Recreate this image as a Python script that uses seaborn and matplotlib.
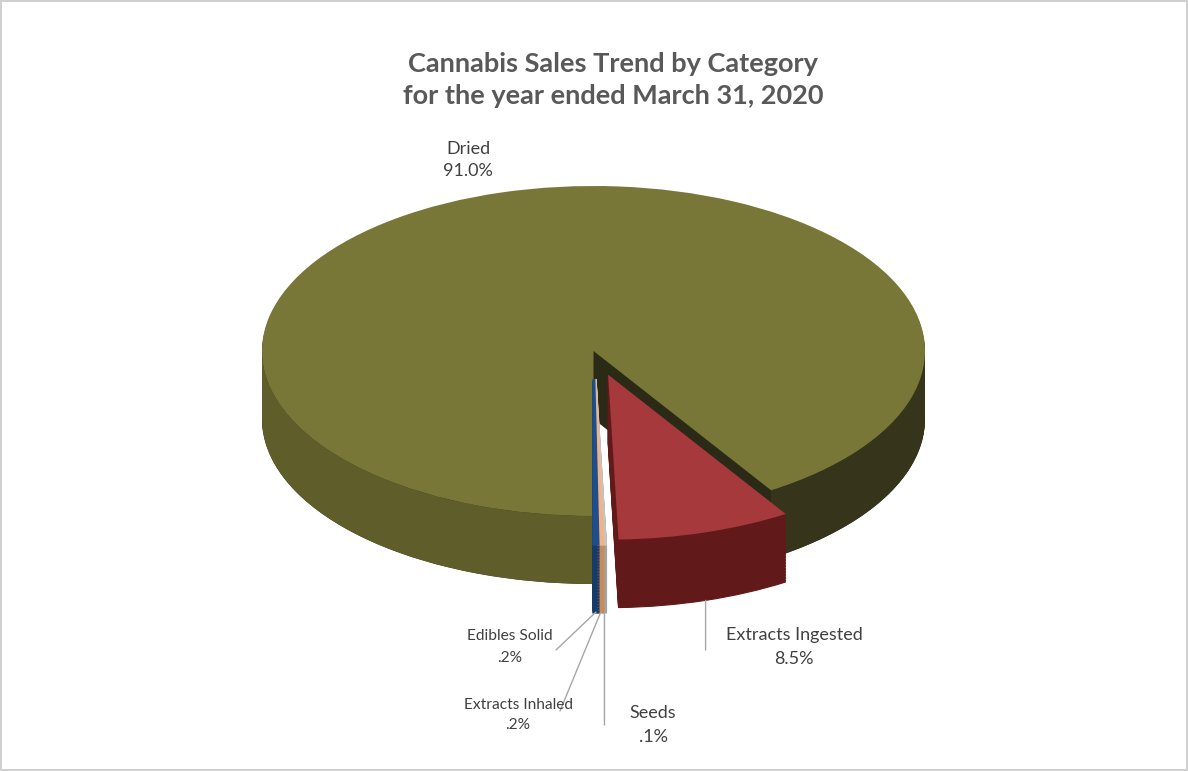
import numpy as np
import matplotlib
matplotlib.use("Agg")
import matplotlib.pyplot as plt
import seaborn as sns
from matplotlib.path import Path
from matplotlib.patches import PathPatch

# ---------------- data ----------------
categories = ["Dried", "Extracts Ingested", "Seeds", "Extracts Inhaled", "Edibles Solid"]
shares = [91.0, 8.5, 0.1, 0.2, 0.2]
share_labels = ["91.0%", "8.5%", ".1%", ".2%", ".2%"]

# ---------------- style ----------------
top_colors = ["#787737", "#a5393b", "#c4c4c4", "#f4b183", "#1f4e8c"]
side_colors = ["#2a2a16", "#621919", "#a3a3a3", "#c98a55", "#173a68"]
wall_left, wall_right = "#5f5d2a", "#36351b"
explode = [0.0, 0.15, 0.17, 0.17, 0.17]

sns.set_theme(style="white")
plt.rcParams['font.family'] = ['Lato', 'DejaVu Sans']

W, H = 1188, 771
fig = plt.figure(figsize=(W / 100, H / 100), dpi=100)
fig.patch.set_facecolor("white")
fig.patch.set_edgecolor("#d0d0d0")
fig.patch.set_linewidth(1.5)
ax = fig.add_axes([0, 0, 1, 1])

# pixel geometry of the pie ellipse
cx, cy, rx, ry = 593.5, 351.0, 331.5, 165.0
def px(x, y):
    return ((x - cx) / rx, (cy - y) / ry)

thick = 68.0 / ry
n_layers = 45
pie_kw = dict(explode=explode, startangle=-90, counterclock=False,
              wedgeprops=dict(linewidth=0))

def colors_for(idx_list, palette):
    return [palette[i] if i in idx_list else "none" for i in range(len(shares))]

# --- Dried: side layers (dark radial faces) ---
for k in range(n_layers, 0, -1):
    ax.pie(shares, colors=colors_for([0], side_colors),
           center=(0, -thick * k / n_layers), **pie_kw)

# --- Dried: visible outer wall (front crescent), lighter on the left ---
t1 = np.linspace(2 * np.pi, np.pi, 200)
t2 = np.linspace(np.pi, 2 * np.pi, 200)
crescent = np.vstack([np.column_stack([np.cos(t1), np.sin(t1)]),
                      np.column_stack([np.cos(t2), np.sin(t2) - thick]),
                      [[1.0, 0.0]]])
wall_clip = PathPatch(Path(crescent), transform=ax.transData, facecolor="none", edgecolor="none")
probe, _ = ax.pie(shares, colors=["none"] * len(shares), center=(0, 0), **pie_kw)
dried_start = np.deg2rad(probe[0].theta2)   # edge at the bottom (6 o'clock)
dried_end = np.deg2rad(probe[0].theta1)     # edge at lower right
left_span = ax.axvspan(-1.05, np.cos(dried_start), color=wall_left, lw=0, zorder=1)
left_span.set_clip_path(wall_clip)
right_span = ax.axvspan(np.cos(dried_end), 1.05, color=wall_right, lw=0, zorder=1)
right_span.set_clip_path(wall_clip)

# --- Dried: top face ---
ax.pie(shares, colors=colors_for([0], top_colors), center=(0, 0), **pie_kw)

# --- other slices: side layers then tops ---
others = [1, 2, 3, 4]
thin = [2, 3, 4]
def thicken(ws, side=False):
    for i in thin:
        ws[i].set_edgecolor(ws[i].get_facecolor())
        ws[i].set_linewidth(2.2)
    if side:
        ws[1].set_edgecolor(ws[1].get_facecolor())
        ws[1].set_linewidth(0.8)

for k in range(n_layers, 0, -1):
    ws, _ = ax.pie(shares, colors=colors_for(others, side_colors),
                   center=(0, -thick * k / n_layers), **pie_kw)
    thicken(ws, side=True)
wedges, _ = ax.pie(shares, colors=colors_for(others, top_colors), center=(0, 0), **pie_kw)
thicken(wedges)

# ---------------- labels ----------------
txt_color = "#404040"
line_color = "#a6a6a6"
label_pos = {
    "Dried": ((468, 160), 13, 1.42),
    "Extracts Ingested": ((794, 647), 13, 1.6),
    "Seeds": ((653, 725), 13, 1.55),
    "Extracts Inhaled": ((518, 715), 11.2, 1.5),
    "Edibles Solid": ((510, 647), 11.2, 1.65),
}
line_ends = {
    "Extracts Ingested": (None, 650),
    "Seeds": (None, 725),
    "Extracts Inhaled": (560, 711),
    "Edibles Solid": (556, 650),
}
for i, (cat, lab) in enumerate(zip(categories, share_labels)):
    (lx, ly), fs, lsp = label_pos[cat]
    ax.text(*px(lx, ly), f"{cat}\n{lab}", ha="center", va="center",
            fontsize=fs, color=txt_color, linespacing=lsp, zorder=5)
    if cat in line_ends:
        w = wedges[i]
        mid = np.deg2rad((w.theta1 + w.theta2) / 2)
        ax_x = w.center[0] + w.r * np.cos(mid)
        ax_y = w.center[1] + w.r * np.sin(mid) - thick
        ex, ey = line_ends[cat]
        end = (ax_x if ex is None else px(ex, 0)[0], px(0, ey)[1])
        ax.annotate("", xy=(ax_x, ax_y), xytext=end,
                    arrowprops=dict(arrowstyle="-", color=line_color, lw=1,
                                    shrinkA=0, shrinkB=0), zorder=4)

fig.text(613 / W, 1 - 80 / H, "Cannabis Sales Trend by Category\nfor the year ended March 31, 2020",
         ha="center", va="center", fontsize=19.5, fontweight="bold", color="#595959",
         linespacing=1.45)

ax.set_aspect("auto")
ax.set_xlim(px(0, 0)[0], px(W, 0)[0])
ax.set_ylim(px(0, H)[1], px(0, 0)[1])
ax.axis("off")

fig.savefig("out.png", dpi=100, facecolor=fig.get_facecolor(), edgecolor=fig.get_edgecolor())
